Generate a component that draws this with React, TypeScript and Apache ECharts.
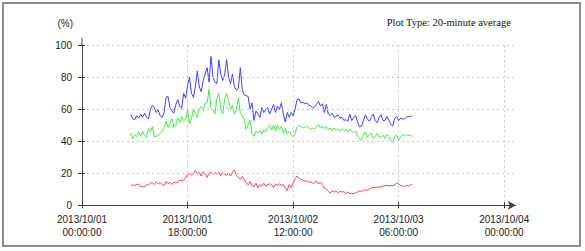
import React, { useEffect, useRef } from "react";
import * as echarts from "echarts";

// Sampling: 20-minute averages, first sample at 2013/10/01 08:20 (hours since 2013/10/01 00:00)
const START_HOUR = 8 + 20 / 60;
const STEP_HOURS = 20 / 60;

const blueValues = [
  56.5, 54, 53.5, 56, 54.5, 57, 55, 57.5, 55, 54, 60, 62.5, 61, 58, 59.5, 56, 55, 58, 67.5, 68,
  61, 59, 57.5, 63, 66, 62, 60.5, 70, 67, 75, 80, 70, 67.5, 74, 84, 74, 71, 78, 82, 86,
  77, 93, 80, 77, 76, 91, 82, 78, 82, 91, 80, 76, 82, 74, 72, 73, 86, 72, 69, 68.5,
  68, 60, 64, 53, 59, 57, 55, 61, 58, 60, 61, 57, 60, 63, 58, 62, 60, 64, 57, 52,
  58, 55, 58, 56, 60, 66, 66.5, 64, 64.5, 63.5, 64, 62.5, 62, 61, 61.5, 63, 65, 62, 63.5, 58,
  63, 57, 56, 57.5, 55, 55.5, 56.5, 54.5, 55, 53, 53.5, 52.5, 57, 53, 55, 56, 52, 49, 49.5, 53,
  56.5, 54, 52.5, 55, 57, 53, 51.5, 55, 56.5, 53, 53, 55.5, 53, 50.5, 49.5, 54.5, 55.5, 53, 54.5, 54,
  54, 55, 55.5, 55.5, 56,
];

const greenValues = [
  45.2, 41.7, 43.8, 43, 45.8, 43.1, 46.2, 43.8, 42.5, 48, 45.8, 49.2, 42.5, 43.3, 43.3, 45, 46.2, 48.7, 52.5, 48.7,
  51.2, 54.2, 48.7, 50.4, 54.6, 51.7, 55.4, 52.9, 53.7, 59.6, 50.8, 54.2, 60, 57.5, 55, 60.4, 61.7, 59.2, 63.7, 64,
  72.5, 60.8, 59.6, 57, 66.7, 70, 60.4, 57, 66.7, 70, 65, 60, 62.5, 57, 59.6, 67, 57.9, 55.8, 53.7, 47.5,
  50.4, 53.3, 44.6, 43.3, 46.2, 45.4, 47, 44.6, 47, 46.2, 48.3, 50, 47, 50, 46.7, 50, 47.5, 49.2, 45.4, 47.9,
  44.6, 46.2, 44.2, 42.9, 44.6, 48.7, 50, 49.2, 48.3, 48.7, 49.6, 48.3, 47.5, 48.3, 47.9, 49.2, 50.4, 48.3, 49.6, 47.9,
  49.2, 47.5, 48.3, 46.7, 48.3, 47, 47.9, 46.2, 47.9, 46.7, 47.5, 45.8, 47.5, 46.2, 45.4, 46.7, 42.9, 41.2, 40.8, 43.8,
  45.8, 42.5, 44.2, 45, 41.7, 42.9, 45, 42.9, 42.5, 43.8, 41.7, 44.2, 42.9, 40.4, 39.2, 42.9, 43.8, 40.8, 42.5, 44.2,
  43.3, 44.2, 43.8, 43.8, 42.9,
];

const redValues = [
  12.3, 12.7, 12.5, 12.9, 13.3, 11.5, 11.9, 11.2, 12.9, 12.7, 13.8, 14.2, 12.9, 14.6, 13.5, 14.2, 12.9, 12.5, 14.8, 13.5,
  14.4, 13.1, 14.2, 14.4, 14.2, 15.8, 15.2, 16, 16.9, 19, 19.8, 19, 20, 21.7, 19.4, 20.6, 18.3, 21, 19.8, 17.5,
  20, 20.8, 19.4, 20.4, 19.6, 20.8, 18.5, 20.4, 19.2, 18.8, 20.2, 18.3, 20.8, 22.1, 18.8, 17.5, 16.3, 17.9, 15.8, 14.2,
  12.7, 14.8, 12.1, 11.7, 13.8, 11, 12.9, 12.1, 13.8, 12.1, 12.9, 13.5, 12.9, 11.2, 13.3, 12.5, 13.5, 12.5, 12.9, 10.8,
  9.2, 12.9, 11.2, 13.8, 16.7, 18.3, 17.1, 16.2, 15.8, 15, 15.4, 14.2, 14.8, 13.5, 14.4, 15, 13.3, 14.6, 12.9, 10.8,
  10, 8.7, 7.5, 9.2, 8.3, 9, 7.9, 8.7, 8.3, 8.5, 7.3, 8.3, 7.3, 7.5, 7.3, 7.7, 8.3, 9, 8.7, 9.2,
  9.6, 9.4, 10.4, 10.8, 11.2, 11, 11.5, 11.2, 11.5, 11.9, 12.3, 12.5, 12.1, 12.5, 12.3, 12.7, 13.8, 13.3, 12.5, 12.1,
  11.5, 12.5, 12.1, 12.7, 13.3,
];

// Axis setup (hours since 2013/10/01 00:00:00)
const X_TICK_HOURS = 18;
const X_MAX_HOURS = 72;
const X_ARROW_HOURS = 74;
const Y_MAX = 100;
const Y_INTERVAL = 20;
const BASE_UTC = Date.UTC(2013, 9, 1, 0, 0, 0);

const TITLE = "Plot Type: 20-minute average";
const Y_NAME = "(%)";

const pad = (n: number) => (n < 10 ? "0" + n : "" + n);
const formatHour = (h: number) => {
  const d = new Date(BASE_UTC + Math.round(h * 3600000));
  return (
    d.getUTCFullYear() + "/" + pad(d.getUTCMonth() + 1) + "/" + pad(d.getUTCDate()) +
    "\n" + pad(d.getUTCHours()) + ":" + pad(d.getUTCMinutes()) + ":" + pad(d.getUTCSeconds())
  );
};

const toPairs = (vals: number[]) => vals.map((v, i) => [START_HOUR + i * STEP_HOURS, v]);

const SANS = "Liberation Sans, Arial, sans-serif";
const SERIF = "Liberation Serif, Times New Roman, serif";
const GRID_DASH = { color: "#c8c8c8", type: [2, 3] as any, width: 1 };

export default function App() {
  const ref = useRef<HTMLDivElement>(null);
  useEffect(() => {
    document.body.style.margin = "0";
    if (!ref.current) return;
    const chart = echarts.init(ref.current, undefined, { renderer: "svg" });
    chart.setOption({
      animation: false,
      backgroundColor: "#ffffff",
      title: {
        text: TITLE,
        right: 69,
        top: 12,
        textStyle: { fontFamily: SERIF, fontSize: 10.5, fontWeight: "normal", color: "#111" },
      },
      grid: [
        { left: 82, top: 45.3, right: 585 - 82 - 433.7, bottom: 251 - 205.3 },
        { left: 82, top: 45.3, right: 585 - 82 - 422.2, bottom: 251 - 205.3 },
      ],
      xAxis: [
        {
          gridIndex: 0,
          type: "value",
          min: 0,
          max: X_ARROW_HOURS,
          z: 5,
          axisLine: {
            show: true,
            lineStyle: { color: "#444", width: 1 },
            symbol: ["none", "arrow"],
            symbolSize: [7, 8],
          },
          axisTick: { show: false },
          axisLabel: { show: false },
          splitLine: { show: false },
        },
        {
          gridIndex: 1,
          type: "value",
          min: 0,
          max: X_MAX_HOURS,
          interval: X_TICK_HOURS,
          position: "bottom",
          axisLine: { show: false },
          axisTick: { show: true, length: 3, lineStyle: { color: "#333" } },
          axisLabel: {
            formatter: (v: number) => formatHour(v),
            fontFamily: SANS,
            fontSize: 10,
            lineHeight: 13,
            margin: 8,
            color: "#222",
            showMaxLabel: true,
            showMinLabel: true,
          },
          splitLine: { show: true, lineStyle: GRID_DASH },
        },
        {
          gridIndex: 1,
          type: "value",
          min: 0,
          max: X_MAX_HOURS,
          interval: X_TICK_HOURS,
          position: "bottom",
          z: 5,
          axisLine: { show: false },
          axisTick: { show: true, inside: true, length: 3, lineStyle: { color: "#333" } },
          axisLabel: { show: false },
          splitLine: { show: false },
        },
      ],
      yAxis: [
        {
          gridIndex: 0,
          type: "value",
          min: 0,
          max: Y_MAX,
          interval: Y_INTERVAL,
          z: 5,
          name: Y_NAME,
          nameLocation: "end",
          nameGap: 17,
          nameTextStyle: { fontFamily: SANS, fontSize: 10, color: "#222", align: "right", padding: [0, 9, 0, 0] },
          axisLine: { show: true, lineStyle: { color: "#444", width: 1 } },
          axisTick: { show: true, length: 4, lineStyle: { color: "#333" } },
          axisLabel: { fontFamily: SANS, fontSize: 10, color: "#222", margin: 10 },
          splitLine: { show: true, lineStyle: GRID_DASH },
        },
        {
          gridIndex: 1,
          type: "value",
          min: 0,
          max: Y_MAX,
          interval: Y_INTERVAL,
          z: 5,
          axisLine: { show: false },
          axisTick: { show: true, inside: true, length: 3, lineStyle: { color: "#333" } },
          axisLabel: { show: false },
          splitLine: { show: false },
        },
      ],
      graphic: [
        {
          type: "rect",
          shape: { x: 3, y: 3, width: 577, height: 243 },
          style: { fill: "none", stroke: "#8c8c8c", lineWidth: 2 },
          silent: true,
        },
        {
          type: "line",
          shape: { x1: 82, y1: 38, x2: 82, y2: 46 },
          style: { stroke: "#444", lineWidth: 1 },
          silent: true,
        },
      ],
      series: [
        {
          type: "line",
          xAxisIndex: 1,
          yAxisIndex: 1,
          data: toPairs(blueValues),
          showSymbol: false,
          symbol: "none",
          lineStyle: { color: "#4040ff", width: 1 },
          z: 3,
        },
        {
          type: "line",
          xAxisIndex: 1,
          yAxisIndex: 1,
          data: toPairs(greenValues),
          showSymbol: false,
          symbol: "none",
          lineStyle: { color: "#3cf03c", width: 1 },
          z: 3,
        },
        {
          type: "line",
          xAxisIndex: 1,
          yAxisIndex: 1,
          data: toPairs(redValues),
          showSymbol: false,
          symbol: "none",
          lineStyle: { color: "#ff4040", width: 1 },
          z: 3,
        },
      ],
    });
    return () => chart.dispose();
  }, []);
  return (
    <div
      ref={ref}
      style={{ position: "absolute", left: 0, top: 0, width: 585, height: 251, background: "#fff" }}
    />
  );
}
